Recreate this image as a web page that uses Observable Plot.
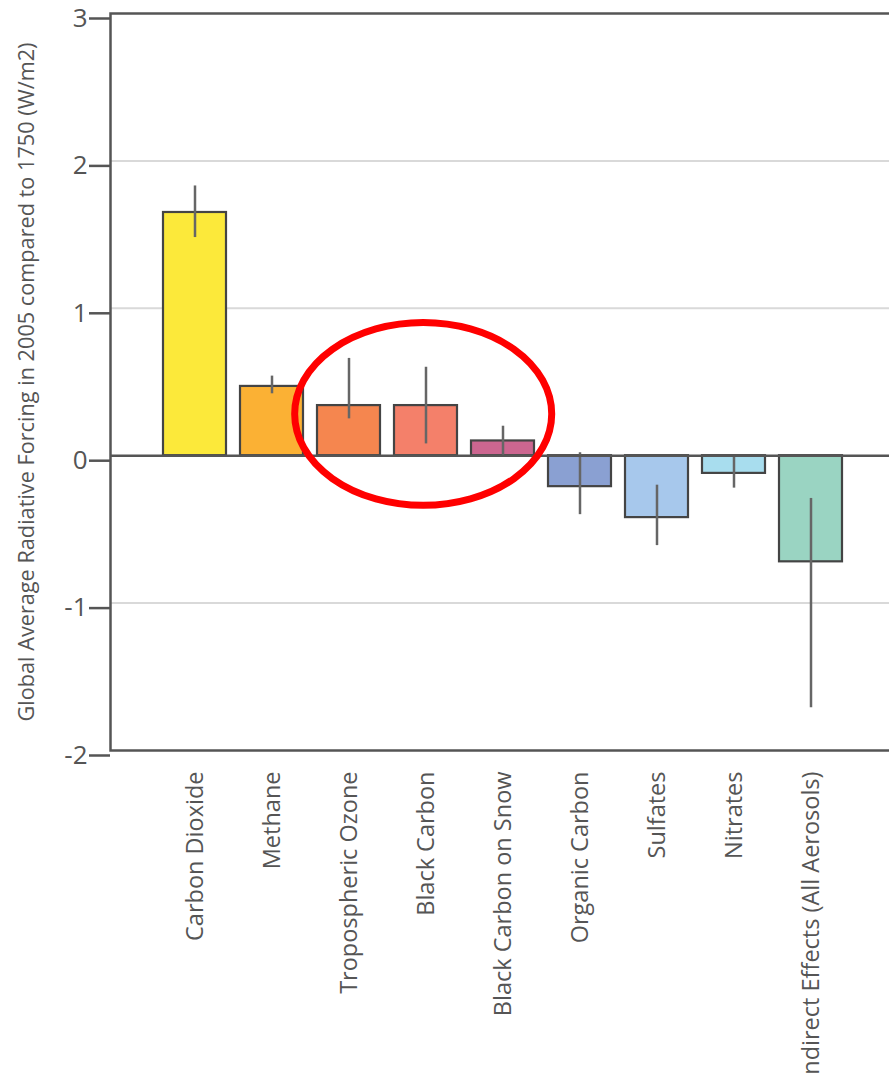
<!DOCTYPE html>
<html>
<head>
<meta charset="utf-8">
<script src="https://cdn.jsdelivr.net/npm/d3@7"></script>
<script src="https://cdn.jsdelivr.net/npm/@observablehq/plot@0.6"></script>
<style>
  html, body { margin: 0; padding: 0; background: #fff; overflow: hidden; }
  #chart { width: 889px; height: 1076px; overflow: hidden; }
  #chart svg { max-width: none !important; }
</style>
</head>
<body>
<div id="chart"></div>
<script>
// ---- data ----
const categories = [
  "Carbon Dioxide", "Methane", "Tropospheric Ozone", "Black Carbon",
  "Black Carbon on Snow", "Organic Carbon", "Sulfates", "Nitrates",
  "Indirect Effects (All Aerosols)"
];
const values   = [1.65, 0.47, 0.34, 0.34, 0.10, -0.21, -0.42, -0.12, -0.72];
const errLow   = [1.48, 0.42, 0.25, 0.08, 0.00, -0.40, -0.61, -0.22, -1.71];
const errHigh  = [1.83, 0.54, 0.66, 0.60, 0.20,  0.02, -0.20,  0.00, -0.29];
const colors   = ["#FCE93A", "#FBB134", "#F5864F", "#F4806A", "#CC6690",
                  "#8AA0D2", "#A7C8EC", "#A8DDEE", "#9AD4C2"];
const yTicks   = [-2, -1, 0, 1, 2, 3];
const gridTicks = [2, 1, -1];
const yLabel = "Global Average Radiative Forcing in 2005 compared to 1750 (W/m2)";
// highlight annotation (red ellipse around these categories)
const highlightFrom = "Tropospheric Ozone";
const highlightTo = "Black Carbon on Snow";
const highlightCenter = 0.28;
const highlightRadius = 0.62;

const data = categories.map((c, i) => ({
  category: c, value: values[i], lo: errLow[i], hi: errHigh[i], color: colors[i]
}));

const plot = Plot.plot({
  width: 960,
  height: 1120,
  marginLeft: 110,
  marginRight: 0,
  marginTop: 13,
  marginBottom: 370,
  style: { fontFamily: "'Open Sans', sans-serif", background: "#fff", overflow: "visible", maxWidth: "none" },
  x: { domain: categories, range: [153, 853], paddingInner: 0.18, paddingOuter: 0.09 },
  y: { domain: [-2, 3] },
  marks: [
    Plot.ruleY(gridTicks, { stroke: "#d9d9d9", strokeWidth: 2 }),
    Plot.barY(data, {
      x: "category", y: "value", fill: "color",
      stroke: "#444", strokeWidth: 2.2
    }),
    Plot.ruleX(data, {
      x: "category", y1: "lo", y2: "hi",
      stroke: "#666", strokeWidth: 2.5
    }),
    Plot.ruleY([0], { stroke: "#555", strokeWidth: 2.5 }),
    Plot.frame({ stroke: "#555", strokeWidth: 2.5 }),
    Plot.axisY({
      ticks: yTicks, tickFormat: d => String(d), tickSize: 21, tickPadding: 2,
      fontSize: 26, dy: 5, stroke: "#555", strokeWidth: 2.5, fill: "#555", label: null
    }),
    Plot.axisX({
      tickRotate: -90, tickSize: 0, tickPadding: 21, fontSize: 23.5,
      fill: "#555", label: null
    }),
    Plot.text([yLabel], {
      text: d => d, frameAnchor: "left", textAnchor: "middle", dx: -83, rotate: -90,
      fontSize: 21.7, fill: "#555"
    })
  ]
});
plot.style.maxWidth = "none";

document.getElementById("chart").appendChild(plot);

// red ellipse annotation positioned through the plot's scales
const xs = plot.scale("x"), ys = plot.scale("y");
const bw = xs.bandwidth, step = xs.step;
const left = xs.apply(highlightFrom) - 0.29 * step;
const right = xs.apply(highlightTo) + bw + 0.23 * step;
const cy = ys.apply(highlightCenter);
const ry = Math.abs(ys.apply(highlightCenter + highlightRadius) - cy);
d3.select(plot).append("ellipse")
  .attr("cx", (left + right) / 2)
  .attr("cy", cy)
  .attr("rx", (right - left) / 2)
  .attr("ry", ry)
  .attr("fill", "none")
  .attr("stroke", "#f00")
  .attr("stroke-width", 7);
</script>
</body>
</html>
